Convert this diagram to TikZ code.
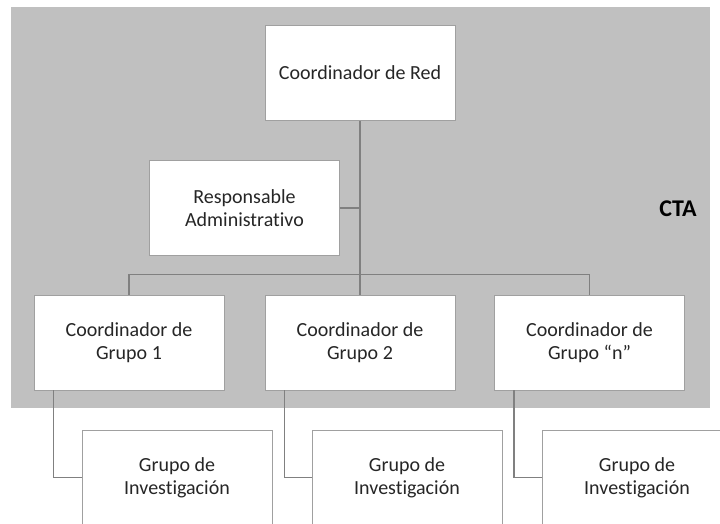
\documentclass[tikz,border=0pt]{standalone}
\usepackage{fontspec}
\setmainfont{Carlito}[Ligatures={NoCommon}]
\usepackage{tikz}
\usetikzlibrary{positioning}
\definecolor{ctagray}{RGB}{192,192,192}
\definecolor{boxline}{RGB}{160,160,160}
\definecolor{linkgray}{RGB}{128,128,128}
\definecolor{boxtext}{RGB}{38,38,38}

\begin{document}
\begin{tikzpicture}[x=1pt,y=-1pt,
  unit/.style={draw=boxline,line width=0.8pt,fill=white,minimum width=190pt,
    minimum height=95pt,align=center,text=boxtext,font=\fontsize{20}{23}\selectfont},
  link/.style={draw=linkgray,line width=1.3pt}]
    \useasboundingbox (0,0) rectangle (720,523);
    \begin{scope}
    \clip (0,0) rectangle (720,523);
    \fill[ctagray] (11,7) rectangle (710,408);
    \node[font=\bfseries\fontsize{24}{26}\selectfont] (cta) at (678,209) {CTA};
    % nodes
    \node[unit] (red) at (360,73) {Coordinador de Red};
    \node[unit] (resp) at (244.5,208) {Responsable\\Administrativo};
    \node[unit] (g1) at (129,342.5) {Coordinador de\\Grupo 1};
    \node[unit] (g2) at (360,342.5) {Coordinador de\\Grupo 2};
    \node[unit] (gn) at (589.5,342.5) {Coordinador de\\Grupo ``n''};
    \node[unit] (inv1) at (177,477.5) {Grupo de\\Investigación};
    \node[unit] (inv2) at (407,477.5) {Grupo de\\Investigación};
    \node[unit] (inv3) at (637,477.5) {Grupo de\\Investigación};
    % links
    \draw[link] (red.south) -- (g2.north);
    \draw[link] (resp.east) -- (red.south |- resp.east);
    \draw[link] (g1.north) -- ++(0,20pt) -| (gn.north);
    \draw[link] ([xshift=20pt]g1.south west) |- (inv1.west);
    \draw[link] ([xshift=20pt]g2.south west) |- (inv2.west);
    \draw[link] ([xshift=20pt]gn.south west) |- (inv3.west);
    \end{scope}
  \end{tikzpicture}
\end{document}
